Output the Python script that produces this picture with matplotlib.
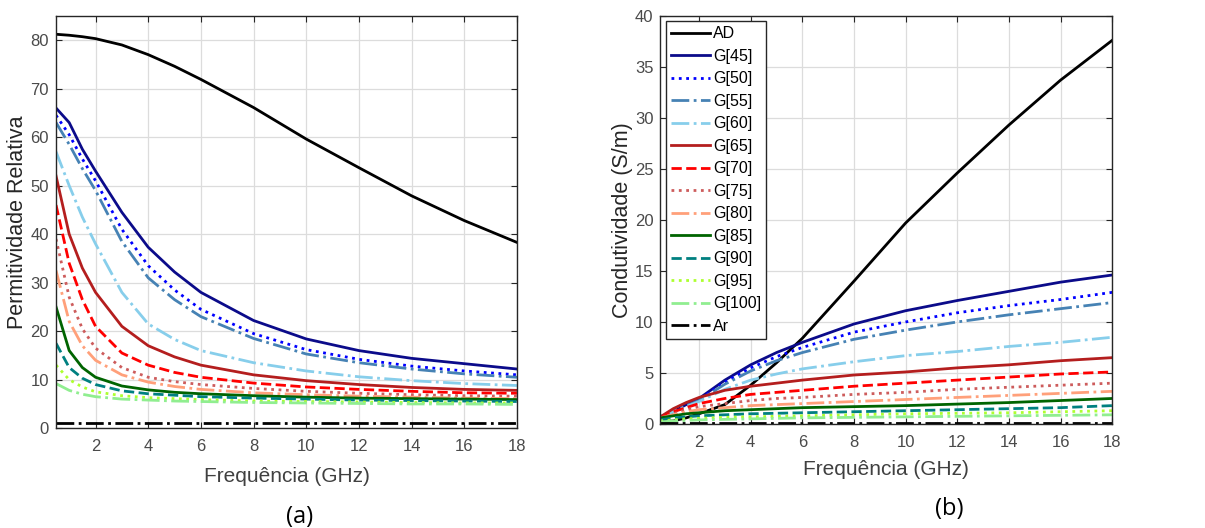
import numpy as np
import matplotlib.pyplot as plt

freq = [0.5, 1, 1.5, 2, 3, 4, 5, 6, 8, 10, 12, 14, 16, 18]

labels = ["AD", "G[45]", "G[50]", "G[55]", "G[60]", "G[65]", "G[70]",
          "G[75]", "G[80]", "G[85]", "G[90]", "G[95]", "G[100]", "Ar"]
colors = ["black", "#0b0b8a", "#0000ff", "#4682b4", "#87ceeb", "#b41e1e", "#ff0000",
          "#cd5c5c", "#ffa07a", "#006400", "#008080", "#adff2f", "#90ee90", "black"]
styles = ["-", "-", ":", "-.", "-.", "-", "--", ":", "-.", "-", "--", ":", "-.", "-."]

# permitividade relativa (a)
eps_r = [
    [81.2, 81.0, 80.7, 80.3, 79.0, 77.0, 74.6, 71.9, 66.1, 59.6, 53.7, 47.9, 42.8, 38.3],
    [66.0, 63.0, 57.5, 53.0, 44.5, 37.3, 32.2, 28.0, 22.2, 18.4, 16.0, 14.4, 13.3, 12.2],
    [64.5, 60.5, 55.5, 51.0, 41.0, 33.5, 28.5, 24.5, 19.5, 16.2, 14.2, 12.8, 11.8, 11.0],
    [63.0, 58.5, 53.5, 49.0, 38.5, 31.0, 26.5, 23.0, 18.5, 15.3, 13.5, 12.2, 11.2, 10.5],
    [57.0, 50.0, 43.5, 38.0, 28.0, 21.5, 18.3, 16.0, 13.5, 11.8, 10.6, 9.8, 9.2, 8.8],
    [52.0, 40.0, 33.0, 28.0, 21.0, 17.0, 14.7, 13.0, 11.0, 9.8, 9.0, 8.4, 8.0, 7.8],
    [46.0, 34.0, 26.5, 21.0, 15.5, 13.0, 11.5, 10.5, 9.3, 8.5, 8.0, 7.6, 7.3, 7.2],
    [39.0, 27.0, 20.5, 16.5, 12.5, 10.5, 9.6, 9.0, 8.2, 7.6, 7.2, 6.9, 6.7, 6.6],
    [32.5, 22.0, 17.0, 14.0, 11.0, 9.5, 8.6, 8.0, 7.3, 6.9, 6.6, 6.4, 6.2, 6.1],
    [25.0, 16.0, 12.5, 10.5, 8.7, 7.9, 7.4, 7.1, 6.7, 6.4, 6.2, 6.1, 6.0, 5.9],
    [17.5, 12.5, 10.3, 9.0, 7.7, 7.1, 6.8, 6.5, 6.2, 6.0, 5.8, 5.7, 5.6, 5.5],
    [13.0, 10.0, 8.5, 7.5, 6.7, 6.3, 6.1, 5.9, 5.6, 5.5, 5.4, 5.3, 5.2, 5.2],
    [9.2, 7.8, 7.0, 6.5, 6.0, 5.8, 5.6, 5.5, 5.3, 5.2, 5.1, 5.0, 5.0, 4.9],
    [1.0, 1.0, 1.0, 1.0, 1.0, 1.0, 1.0, 1.0, 1.0, 1.0, 1.0, 1.0, 1.0, 1.0],
]

# condutividade (b)
sigma = [
    [0.2, 0.3, 0.6, 1.0, 1.9, 3.8, 6.0, 8.4, 14.0, 19.7, 24.6, 29.3, 33.7, 37.6],
    [0.7, 1.2, 1.9, 2.5, 4.3, 5.8, 7.0, 8.0, 9.8, 11.1, 12.1, 13.0, 13.9, 14.6],
    [0.7, 1.2, 1.8, 2.4, 4.1, 5.5, 6.6, 7.5, 9.0, 10.0, 10.9, 11.6, 12.2, 12.9],
    [0.7, 1.2, 1.8, 2.3, 3.9, 5.2, 6.2, 7.0, 8.3, 9.2, 10.0, 10.7, 11.3, 11.9],
    [0.7, 1.2, 1.7, 2.2, 3.4, 4.3, 4.9, 5.4, 6.1, 6.7, 7.1, 7.6, 8.0, 8.5],
    [0.7, 1.5, 2.1, 2.6, 3.3, 3.7, 4.0, 4.3, 4.8, 5.1, 5.5, 5.8, 6.2, 6.5],
    [0.6, 1.2, 1.6, 2.0, 2.5, 2.9, 3.1, 3.3, 3.7, 4.0, 4.3, 4.6, 4.9, 5.1],
    [0.6, 1.0, 1.4, 1.7, 2.0, 2.3, 2.5, 2.6, 2.9, 3.1, 3.4, 3.6, 3.8, 4.0],
    [0.6, 0.9, 1.2, 1.4, 1.6, 1.8, 1.9, 2.0, 2.2, 2.4, 2.6, 2.8, 3.0, 3.2],
    [0.6, 0.8, 1.0, 1.1, 1.3, 1.4, 1.5, 1.6, 1.7, 1.8, 1.95, 2.1, 2.3, 2.5],
    [0.4, 0.6, 0.7, 0.8, 0.9, 1.0, 1.05, 1.1, 1.2, 1.3, 1.4, 1.5, 1.6, 1.8],
    [0.3, 0.4, 0.5, 0.55, 0.65, 0.7, 0.75, 0.8, 0.9, 1.0, 1.05, 1.1, 1.2, 1.3],
    [0.2, 0.3, 0.35, 0.4, 0.45, 0.5, 0.55, 0.6, 0.65, 0.7, 0.75, 0.8, 0.85, 0.9],
    [0.05, 0.05, 0.05, 0.05, 0.05, 0.05, 0.05, 0.05, 0.05, 0.05, 0.05, 0.05, 0.05, 0.05],
]

plt.rcParams['font.family'] = ['Liberation Sans', 'DejaVu Sans']

fig = plt.figure(figsize=(12.05, 5.28), dpi=100)
ax1 = fig.add_axes([0.0465, 0.189, 0.3825, 0.781])
ax2 = fig.add_axes([0.548, 0.197, 0.375, 0.773])


def style_axis(ax, ylim, yticks, ylabel, xpad):
    ax.set_xlim(0.5, 18)
    ax.set_ylim(*ylim)
    ax.set_xticks(range(2, 19, 2))
    ax.set_yticks(yticks)
    ax.grid(True, color='#dcdcdc', linewidth=0.9)
    ax.set_axisbelow(True)
    ax.tick_params(direction='in', top=True, right=True, labelsize=12,
                   labelcolor='#4a4a4a', color='#262626', length=4)
    ax.tick_params(axis='x', pad=8)
    ax.tick_params(axis='y', pad=5)
    for sp in ax.spines.values():
        sp.set_color('#262626')
        sp.set_linewidth(1.0)
    ax.set_xlabel('Frequência (GHz)', fontsize=15, color='#404040', labelpad=xpad)
    ax.set_ylabel(ylabel, fontsize=15.5, color='#262626', labelpad=1.5)


for vals, lab, c, ls in zip(eps_r, labels, colors, styles):
    ax1.plot(freq, vals, color=c, linestyle=ls, linewidth=2, label=lab)
style_axis(ax1, (0, 85), range(0, 81, 10), 'Permitividade Relativa', 9)

for vals, lab, c, ls in zip(sigma, labels, colors, styles):
    ax2.plot(freq, vals, color=c, linestyle=ls, linewidth=2, label=lab)
style_axis(ax2, (0, 40), range(0, 41, 5), 'Condutividade (S/m)', 7)

leg = ax2.legend(loc='upper left', fontsize=11.5, frameon=True, fancybox=False,
                 edgecolor='#262626', framealpha=1, handlelength=2.45,
                 labelspacing=0.47, borderaxespad=0.35, handletextpad=0.2,
                 borderpad=0.3)
leg.get_frame().set_linewidth(1.0)

fig.text(0.249, 0.01, '(a)', fontsize=17, family='Open Sans', ha='center')
fig.text(0.788, 0.024, '(b)', fontsize=17, family='Open Sans', ha='center')

fig.savefig('out.png', dpi=100)
